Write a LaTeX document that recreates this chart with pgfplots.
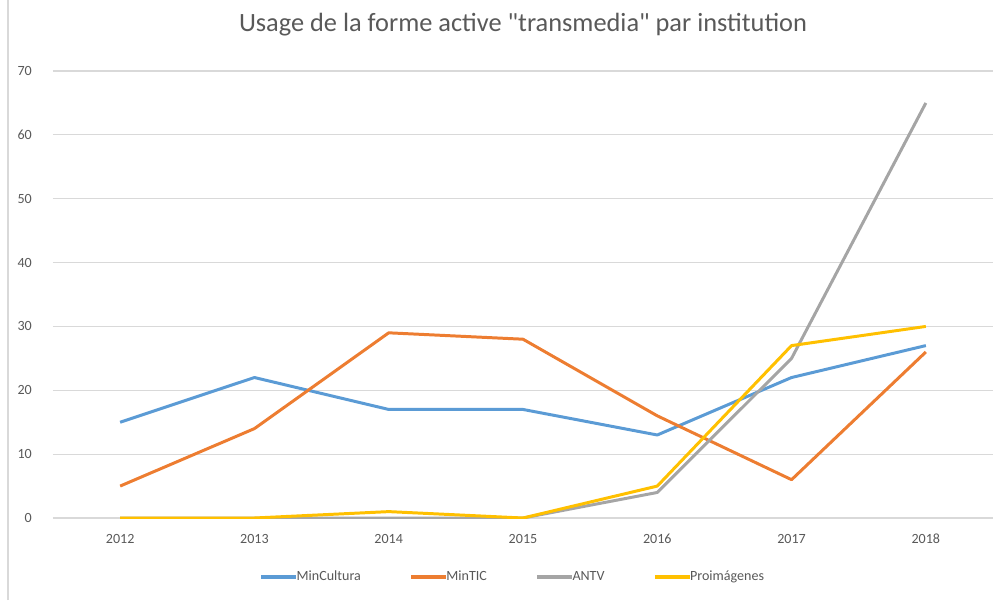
\documentclass[border=0pt]{standalone}
\usepackage{pgfplots}
\pgfplotsset{compat=1.18}
\usepackage{fontspec}
\setmainfont{Carlito}[Ligatures=TeXOff]
\definecolor{cBlue}{HTML}{5B9BD5}
\definecolor{cOrange}{HTML}{ED7D31}
\definecolor{cGray}{HTML}{A5A5A5}
\definecolor{cYellow}{HTML}{FFC000}
\definecolor{gridc}{HTML}{D9D9D9}
\definecolor{txt}{HTML}{595959}
\begin{document}
\begin{tikzpicture}
\useasboundingbox (-1.06,-1.64) rectangle (19.0,10.36);
\draw[gridc, line width=0.6pt] (-0.9,-1.64) -- (-0.9,10.36);
\begin{axis}[
  at={(0,0)}, anchor=south west,
  scale only axis, width=18.8cm, height=8.94cm,
  xmin=-0.5, xmax=6.5, ymin=0, ymax=70,
  xtick={0,...,6}, xticklabels={2012,2013,2014,2015,2016,2017,2018},
  ytick={0,10,...,70},
  ymajorgrids, grid style={gridc, line width=0.6pt},
  axis line style={draw=none},
  major tick length=0pt,
  tick label style={font=\fontsize{8}{9}\selectfont, text=txt},
  /pgf/number format/assume math mode=true,
  yticklabel style={xshift=-0.3cm},
  xticklabel style={yshift=-0.2cm},
  title={Usage de la forme active "transmedia" par institution},
  title style={font=\fontsize{15}{18}\selectfont, text=txt, at={(0.5,1)}, anchor=center, yshift=0.72cm},
  legend style={at={(0.49,-0.132)}, anchor=center, draw=none, font=\fontsize{8}{9}\selectfont, text=txt, legend columns=4, /tikz/every even column/.append style={column sep=0.9cm}, /tikz/every odd column/.append style={column sep=-0.1cm}},
  legend image code/.code={\draw[#1, line width=2pt] (0cm,0cm) -- (0.7cm,0cm);},
  every axis plot/.append style={line width=1.7pt, no markers, line join=round},
]
\addplot[cBlue] coordinates {(0,15) (1,22) (2,17) (3,17) (4,13) (5,22) (6,27)};
\addlegendentry{MinCultura}
\addplot[cOrange] coordinates {(0,5) (1,14) (2,29) (3,28) (4,16) (5,6) (6,26)};
\addlegendentry{MinTIC}
\addplot[cGray] coordinates {(0,0) (1,0) (2,0) (3,0) (4,4) (5,25) (6,65)};
\addlegendentry{ANTV}
\addplot[cYellow] coordinates {(0,0) (1,0) (2,1) (3,0) (4,5) (5,27) (6,30)};
\addlegendentry{Proimágenes}
\end{axis}
\end{tikzpicture}
\end{document}
